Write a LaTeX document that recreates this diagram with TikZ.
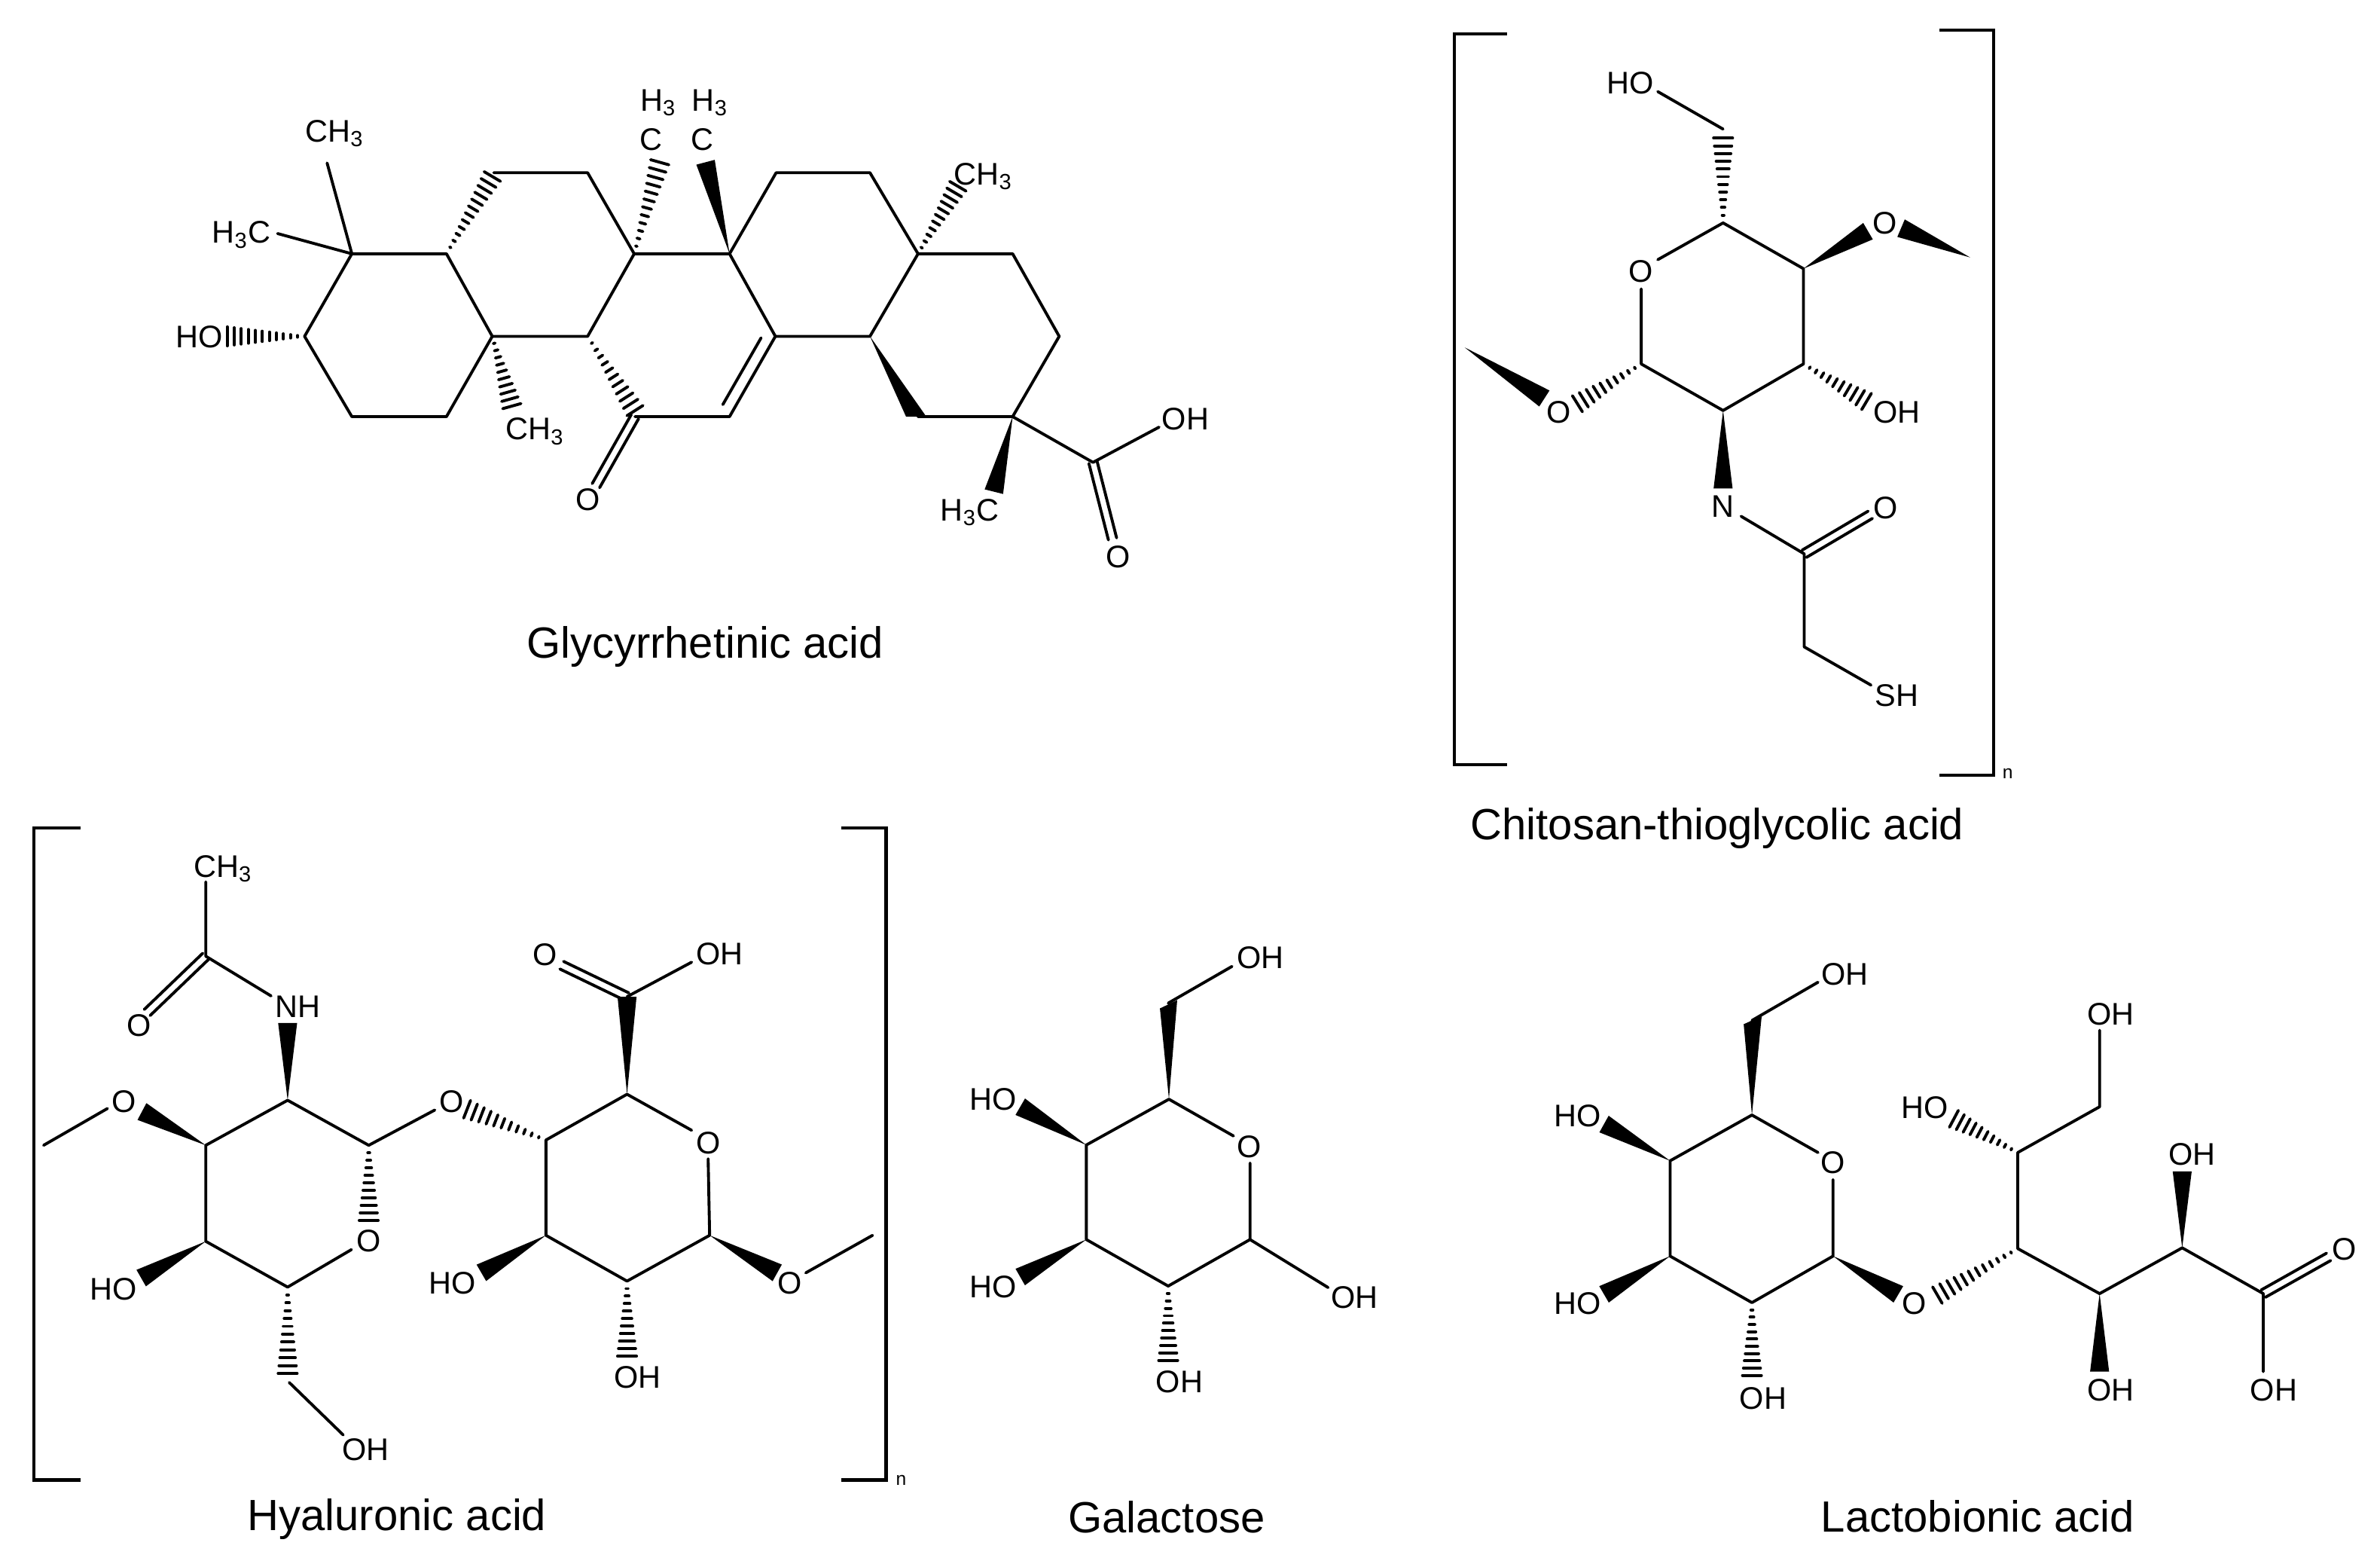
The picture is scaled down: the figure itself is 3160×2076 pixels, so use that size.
\documentclass[tikz,border=0pt]{standalone}
\usepackage{fontspec}
\setmainfont{Liberation Sans}
\usetikzlibrary{calc}
\def\wedgebond(#1)(#2){\fill ($(#2)!3.6pt!90:(#1)$) -- (#1) -- ($(#2)!3.6pt!-90:(#1)$) -- cycle;}
\def\hashbond[#1](#2)(#3){\foreach \i in {1,...,#1} {\pgfmathsetmacro\f{\i/#1}\draw ($(#2)!\f!(#3)!\f*3.6pt!90:(#2)$) -- ($(#2)!\f!(#3)!\f*3.6pt!-90:(#2)$);}}
\def\dbond(#1)(#2){\draw ($(#1)!1.6pt!90:(#2)$) -- ($(#2)!1.6pt!-90:(#1)$);\draw ($(#1)!1.6pt!-90:(#2)$) -- ($(#2)!1.6pt!90:(#1)$);}
\tikzset{
	atom/.style={inner sep=0pt, text height=8.4pt, text depth=0pt, font=\fontsize{11.8}{12}\selectfont},
	caption/.style={inner sep=0pt, font=\fontsize{16.5}{18}\selectfont},
	repeatn/.style={inner sep=0pt, font=\fontsize{7}{8}\selectfont},
	bracket/.style={line width=1.2pt, line cap=butt, line join=miter},
	molecule/.style 2 args={shift={(#1,#2)}, xscale=0.997, yscale=0.996, shift={(-#1,-#2)}}
}

\begin{document}
\begin{tikzpicture}[x=0.01cm, y=-0.01cm, line width=1.1pt, line cap=round, line join=round]
		\useasboundingbox (0, 0) rectangle (3160, 2076);
		
		%%%%% GLYCYRRHETINIC ACID %%%%%
		
		\node[caption] (gname) at (936, 858) {Glycyrrhetinic acid};
		\begin{scope}[molecule={200}{60}]
		\coordinate (g1) at (405, 448);
		\coordinate (g2) at (468, 338);
		\coordinate (g3) at (594, 338);
		\coordinate (g4) at (655, 448);
		\coordinate (g5) at (594, 555);
		\coordinate (g6) at (468, 555);
		\coordinate (g7) at (782, 448);
		\coordinate (g8) at (844, 338);
		\coordinate (g9) at (782, 230);
		\coordinate (g10) at (657, 230);
		\coordinate (g11) at (971, 338);
		\coordinate (g12) at (1032, 448);
		\coordinate (g13) at (971, 555);
		\coordinate (g14) at (845, 555);
		\coordinate (g15) at (1158, 448);
		\coordinate (g16) at (1222, 338);
		\coordinate (g17) at (1158, 230);
		\coordinate (g18) at (1033, 230);
		\coordinate (g19) at (1348, 338);
		\coordinate (g20) at (1410, 448);
		\coordinate (g21) at (1348, 555);
		\coordinate (g22) at (1222, 555);
		\coordinate (g23) at (1455, 616);
		
		\node[atom] (gCHa) at (445, 174) {CH\textsubscript{3}};
		\node[atom] (gHCa) at (321, 309) {H\textsubscript{3}C};
		\node[atom] (gHO) at (265, 448) {HO};
		\node[atom] (gHb) at (876, 133) {H\textsubscript{3}};
		\node[atom] (gCb) at (866, 185) {C};
		\node[atom] (gHc) at (945, 133) {H\textsubscript{3}};
		\node[atom] (gCc) at (935, 185) {C};
		\node[atom] (gCHd) at (1309, 231) {CH\textsubscript{3}};
		\node[atom] (gCHe) at (712, 571) {CH\textsubscript{3}};
		\node[atom] (gO) at (782, 665) {O};
		\node[atom] (gHCf) at (1291, 679) {H\textsubscript{3}C};
		\node[atom] (gOH) at (1578, 558) {OH};
		\node[atom] (gOb) at (1488, 741) {O};
		
		\coordinate (gea) at (435, 217);
		\coordinate (geb) at (369, 311);
		\coordinate (gec) at (302, 448);
		\coordinate (ged) at (655, 235);
		\coordinate (gee) at (878, 216);
		\coordinate (gef) at (939, 216);
		\coordinate (geg) at (1275, 248);
		\coordinate (geh) at (681, 541);
		\coordinate (gei) at (845, 547);
		\coordinate (gej) at (793, 647);
		\coordinate (gek) at (1323, 655);
		\coordinate (gel) at (1543, 569);
		\coordinate (gem) at (1481, 718);
		\coordinate (gen) at (1013, 450);
		\coordinate (geo) at (962, 539);
		\coordinate (gep) at (1206, 555);
		\coordinate (geq) at (1233, 555);
		
		\draw (g1) -- (g2) -- (g3) -- (g4) -- (g5) -- (g6) -- cycle;
		\draw (g4) -- (g7) -- (g8);
		\draw (g10) -- (g9) -- (g8) -- (g11) -- (g12) -- (g13) -- (g14);
		\draw (g11) -- (g18) -- (g17) -- (g16) -- (g15) -- (g12);
		\draw (g16) -- (g19) -- (g20) -- (g21) -- (g22);
		\draw (gen) -- (geo);
		\draw (g2) -- (gea);
		\draw (g2) -- (geb);
		\draw (g21) -- (g23) -- (gel);
		\dbond(g14)(gej);
		\dbond(g23)(gem);
		\hashbond[11](g1)(gec);
		\hashbond[12](g3)(ged);
		\hashbond[12](g8)(gee);
		\hashbond[11](g16)(geg);
		\hashbond[10](g4)(geh);
		\hashbond[11](g7)(gei);
		\wedgebond(g11)(gef);
		\wedgebond(g21)(gek);
		\fill (g15) -- (gep) -- (geq) -- cycle;
		\end{scope}
		
		%%%%% CHITOSAN-THIOGLYCOLIC ACID %%%%%
		
		\node[caption] (cname) at (2280, 1099) {Chitosan-thioglycolic acid};
		\begin{scope}[molecule={1900}{20}]
		\draw[bracket] (2001, 45) -- (1931, 45) -- (1931, 1019) -- (2001, 1019);
		\draw[bracket] (2577, 40) -- (2649, 40) -- (2649, 1033) -- (2577, 1033);
		\node[repeatn] (cn) at (2668, 1031) {n};
		
		\coordinate (c1) at (2180, 485);
		\coordinate (c2) at (2289, 547);
		\coordinate (c3) at (2396, 485);
		\coordinate (c4) at (2396, 358);
		\coordinate (c5) at (2289, 297);
		\coordinate (c6) at (2289, 172);
		\coordinate (c7) at (2397, 738);
		\coordinate (c8) at (2397, 862);
		
		\node[atom] (cHO) at (2165, 110) {HO};
		\node[atom] (cOr) at (2179, 361) {O};
		\node[atom] (cOa) at (2504, 297) {O};
		\node[atom] (cOb) at (2070, 549) {O};
		\node[atom] (cOH) at (2520, 549) {OH};
		\node[atom] (cN) at (2289, 674) {N};
		\node[atom] (cOc) at (2505, 676) {O};
		\node[atom] (cSH) at (2520, 926) {SH};
		
		\coordinate (cea) at (2202, 122);
		\coordinate (ceb) at (2289, 184);
		\coordinate (cec) at (2202, 346);
		\coordinate (ced) at (2180, 385);
		\coordinate (cee) at (2482, 308);
		\coordinate (cef) at (2618, 343);
		\coordinate (ceg) at (2526, 304);
		\coordinate (ceh) at (2480, 535);
		\coordinate (cei) at (2289, 651);
		\coordinate (cej) at (2313, 688);
		\coordinate (cek) at (2485, 686);
		\coordinate (cel) at (2486, 913);
		\coordinate (cem) at (1945, 463);
		\coordinate (cen) at (2051, 531);
		\coordinate (ceo) at (2095, 538);
		
		\draw (cea) -- (c6);
		\draw (cec) -- (c5) -- (c4) -- (c3) -- (c2) -- (c1) -- (ced);
		\draw (cej) -- (c7) -- (c8) -- (cel);
		\dbond(c7)(cek);
		\hashbond[11](c5)(ceb);
		\hashbond[10](c1)(ceo);
		\hashbond[10](c3)(ceh);
		\wedgebond(c4)(cee);
		\wedgebond(cef)(ceg);
		\wedgebond(c2)(cei);
		\wedgebond(cem)(cen);
		\end{scope}
		
		%%%%% HYALURONIC ACID %%%%%
		
		\node[caption] (hname) at (527, 2016) {Hyaluronic acid};
		\begin{scope}[molecule={20}{1080}]
		\draw[bracket] (107, 1099) -- (45, 1099) -- (45, 1968) -- (107, 1968);
		\draw[bracket] (1120, 1099) -- (1180, 1099) -- (1180, 1968) -- (1120, 1968);
		\node[repeatn] (hn) at (1200, 1968) {n};
		
		\coordinate (h1) at (491, 1522);
		\coordinate (h2) at (383, 1462);
		\coordinate (h3) at (274, 1522);
		\coordinate (h4) at (274, 1650);
		\coordinate (h5) at (383, 1711);
		\coordinate (h6) at (383, 1826);
		\coordinate (h7) at (274, 1270);
		\coordinate (h8) at (727, 1515);
		\coordinate (h9) at (835, 1454);
		\coordinate (h10) at (945, 1642);
		\coordinate (h11) at (835, 1703);
		\coordinate (h12) at (727, 1642);
		\coordinate (h13) at (835, 1324);
		
		\node[atom] (hCH) at (297, 1150) {CH\textsubscript{3}};
		\node[atom] (hOa) at (185, 1362) {O};
		\node[atom] (hNH) at (397, 1337) {NH};
		\node[atom] (hOb) at (165, 1463) {O};
		\node[atom] (hHOa) at (151, 1713) {HO};
		\node[atom] (hOr) at (491, 1649) {O};
		\node[atom] (hOHa) at (487, 1927) {OH};
		\node[atom] (hOc) at (601, 1463) {O};
		\node[atom] (hOd) at (726, 1267) {O};
		\node[atom] (hOHb) at (958, 1266) {OH};
		\node[atom] (hOs) at (943, 1518) {O};
		\node[atom] (hOe) at (1052, 1705) {O};
		\node[atom] (hHOb) at (602, 1705) {HO};
		\node[atom] (hOHc) at (849, 1831) {OH};
		
		\coordinate (hea) at (274, 1171);
		\coordinate (heb) at (196, 1345);
		\coordinate (hec) at (361, 1323);
		\coordinate (hed) at (383, 1359);
		\coordinate (hee) at (189, 1477);
		\coordinate (hef) at (143, 1473);
		\coordinate (heg) at (58, 1522);
		\coordinate (heh) at (188, 1699);
		\coordinate (hei) at (385, 1838);
		\coordinate (hej) at (457, 1908);
		\coordinate (hek) at (491, 1622);
		\coordinate (hel) at (468, 1661);
		\coordinate (hem) at (579, 1475);
		\coordinate (hen) at (622, 1474);
		\coordinate (heo) at (921, 1278);
		\coordinate (hep) at (748, 1282);
		\coordinate (heq) at (921, 1502);
		\coordinate (her) at (943, 1540);
		\coordinate (hes) at (1035, 1692);
		\coordinate (het) at (1073, 1692);
		\coordinate (heu) at (1162, 1642);
		\coordinate (hev) at (641, 1692);
		\coordinate (hew) at (835, 1803);
		
		\draw (hea) -- (h7) -- (hec);
		\dbond(h7)(heb);
		\draw (hel) -- (h5) -- (h4) -- (h3) -- (h2) -- (h1) -- (hem);
		\draw (hei) -- (hej);
		\draw (hef) -- (heg);
		\draw (h9) -- (h8) -- (h12) -- (h11) -- (h10) -- (her);
		\draw (h9) -- (heq);
		\draw (h13) -- (heo);
		\dbond(h13)(hep);
		\draw (het) -- (heu);
		\wedgebond(h2)(hed);
		\wedgebond(h3)(hee);
		\wedgebond(h4)(heh);
		\wedgebond(h9)(h13);
		\wedgebond(h10)(hes);
		\wedgebond(h12)(hev);
		\hashbond[11](h5)(h6);
		\hashbond[10](h1)(hek);
		\hashbond[11](h8)(hen);
		\hashbond[10](h11)(hew);
		\end{scope}
		
		%%%%% GALACTOSE %%%%%
		
		\node[caption] (sname) at (1549, 2014) {Galactose};
		\begin{scope}[molecule={1240}{1230}]
		\coordinate (s1) at (1661, 1647);
		\coordinate (s2) at (1552, 1709);
		\coordinate (s3) at (1443, 1647);
		\coordinate (s4) at (1443, 1521);
		\coordinate (s5) at (1553, 1460);
		\coordinate (s6) at (1552, 1332);
		
		\node[atom] (sOHa) at (1675, 1271) {OH};
		\node[atom] (sOr) at (1660, 1523) {O};
		\node[atom] (sHOa) at (1319, 1460) {HO};
		\node[atom] (sHOb) at (1319, 1710) {HO};
		\node[atom] (sOHb) at (1800, 1724) {OH};
		\node[atom] (sOHc) at (1567, 1836) {OH};
		
		\coordinate (sea) at (1637, 1283);
		\coordinate (seb) at (1541, 1339);
		\coordinate (sec) at (1564, 1328);
		\coordinate (sed) at (1639, 1509);
		\coordinate (see) at (1661, 1545);
		\coordinate (sef) at (1355, 1470);
		\coordinate (seg) at (1355, 1697);
		\coordinate (seh) at (1765, 1711);
		\coordinate (sei) at (1552, 1808);
		
		\draw (s6) -- (sea);
		\draw (sed) -- (s5) -- (s4) -- (s3) -- (s2) -- (s1) -- (see);
		\draw (s1) -- (seh);
		\fill (s5) -- (seb) -- (sec) -- cycle;
		\wedgebond(s4)(sef);
		\wedgebond(s3)(seg);
		\hashbond[10](s2)(sei);
		\end{scope}
		
		%%%%% LACTOBIONIC ACID %%%%%
		
		\node[caption] (lname) at (2626, 2013) {Lactobionic acid};
		\begin{scope}[molecule={2040}{1250}]
		\coordinate (l1) at (2435, 1669);
		\coordinate (l2) at (2327, 1731);
		\coordinate (l3) at (2218, 1669);
		\coordinate (l4) at (2218, 1542);
		\coordinate (l5) at (2327, 1481);
		\coordinate (l6) at (2327, 1355);
		\coordinate (l7) at (2681, 1659);
		\coordinate (l8) at (2681, 1531);
		\coordinate (l9) at (2790, 1470);
		\coordinate (l10) at (2790, 1719);
		\coordinate (l11) at (2900, 1658);
		\coordinate (l12) at (3008, 1719);
		
		\node[atom] (lOHa) at (2451, 1293) {OH};
		\node[atom] (lOr) at (2435, 1544) {O};
		\node[atom] (lHOa) at (2095, 1482) {HO};
		\node[atom] (lHOb) at (2095, 1732) {HO};
		\node[atom] (lOHb) at (2342, 1858) {OH};
		\node[atom] (lOs) at (2543, 1732) {O};
		\node[atom] (lOHc) at (2805, 1346) {OH};
		\node[atom] (lHOc) at (2557, 1471) {HO};
		\node[atom] (lOHd) at (2913, 1533) {OH};
		\node[atom] (lOHe) at (2805, 1847) {OH};
		\node[atom] (lOHf) at (3022, 1847) {OH};
		\node[atom] (lOb) at (3116, 1659) {O};
		
		\coordinate (lea) at (2415, 1304);
		\coordinate (leb) at (2316, 1360);
		\coordinate (lec) at (2340, 1349);
		\coordinate (led) at (2415, 1531);
		\coordinate (lee) at (2435, 1567);
		\coordinate (lef) at (2130, 1493);
		\coordinate (leg) at (2130, 1720);
		\coordinate (leh) at (2327, 1828);
		\coordinate (lei) at (2522, 1720);
		\coordinate (lej) at (2574, 1721);
		\coordinate (lek) at (2790, 1368);
		\coordinate (lel) at (2596, 1486);
		\coordinate (lem) at (2900, 1556);
		\coordinate (len) at (2790, 1823);
		\coordinate (leo) at (3008, 1823);
		\coordinate (lep) at (3095, 1670);
		
		\draw (l6) -- (lea);
		\draw (led) -- (l5) -- (l4) -- (l3) -- (l2) -- (l1) -- (lee);
		\draw (lek) -- (l9) -- (l8) -- (l7) -- (l10) -- (l11) -- (l12) -- (leo);
		\dbond(l12)(lep);
		\fill (l5) -- (leb) -- (lec) -- cycle;
		\wedgebond(l4)(lef);
		\wedgebond(l3)(leg);
		\wedgebond(l1)(lei);
		\wedgebond(l11)(lem);
		\wedgebond(l10)(len);
		\hashbond[10](l2)(leh);
		\hashbond[12](l7)(lej);
		\hashbond[10](l8)(lel);
		\end{scope}
		
		%%%%% END %%%%%
	\end{tikzpicture}
\end{document}
